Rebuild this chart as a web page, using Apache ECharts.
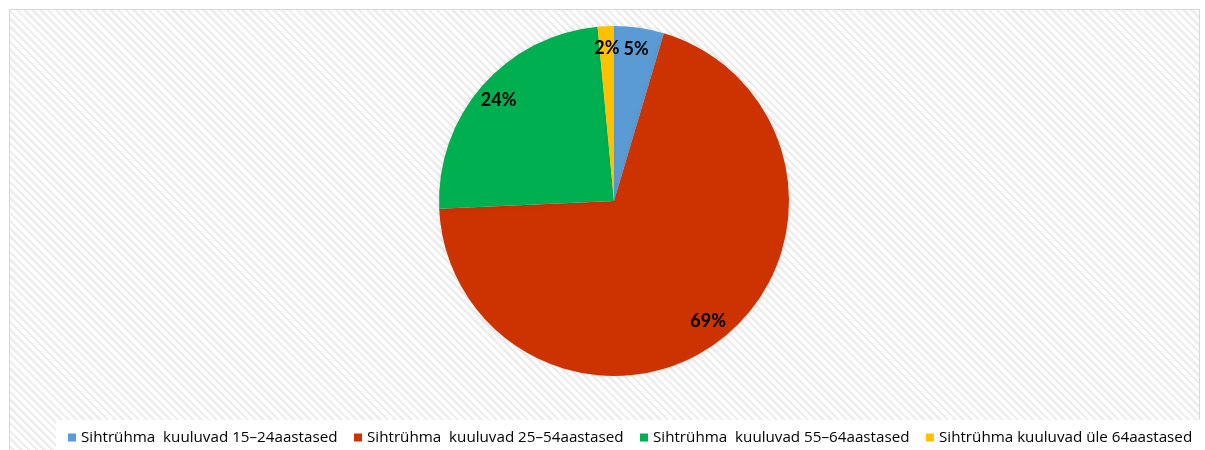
<!DOCTYPE html>
<html>
<head>
<meta charset="utf-8">
<script src="https://cdn.jsdelivr.net/npm/echarts@6/dist/echarts.min.js"></script>
<style>
html,body{margin:0;padding:0;background:#fff;width:1205px;height:450px;overflow:hidden;}
#frame{position:absolute;left:9px;top:9px;width:1191px;height:460px;border:1px solid #d9d9d9;box-sizing:border-box;
background:repeating-linear-gradient(45deg,#ffffff 0px,#ffffff 3px,#eeeeee 3px,#eeeeee 5.5px);}
#chart{position:absolute;left:0;top:0;width:1205px;height:450px;}
</style>
</head>
<body>
<div id="frame"></div>
<div id="chart"></div>
<script>
const categories = [
  'Sihtrühma  kuuluvad 15–24aastased',
  'Sihtrühma  kuuluvad 25–54aastased',
  'Sihtrühma  kuuluvad 55–64aastased',
  'Sihtrühma kuuluvad üle 64aastased'
];
const shares = [4.6, 69.7, 24.2, 1.5];
const labels = ['5%', '69%', '24%', '2%'];
const colors = ['#5B9BD5', '#CC3300', '#00B050', '#FFC000'];

const chart = echarts.init(document.getElementById('chart'), null, {renderer: 'canvas'});
const data = categories.map((c, i) => ({name: c, value: shares[i], itemStyle: {color: colors[i]}}));
const labelData = categories.map((c, i) => ({name: c, value: shares[i], label: {formatter: labels[i]}}));
chart.setOption({
  animation: false,
  backgroundColor: 'transparent',
  legend: {
    data: categories,
    left: 56,
    top: 420,
    width: 1140,
    padding: [10, 8, 12, 12],
    backgroundColor: '#ffffff',
    itemWidth: 8,
    itemHeight: 8,
    itemGap: 16.5,
    icon: 'rect',
    textStyle: {fontFamily: 'Open Sans', fontSize: 15.2, color: '#000'}
  },
  series: [
    {
      type: 'pie',
      center: [614, 201],
      radius: [0, 175],
      startAngle: 90,
      clockwise: true,
      data: data,
      label: {show: false},
      labelLine: {show: false},
      itemStyle: {shadowBlur: 6, shadowColor: 'rgba(0,0,0,0.08)'},
      emphasis: {disabled: true}
    },
    {
      type: 'pie',
      center: [614, 201],
      radius: [125, 175],
      startAngle: 90,
      clockwise: true,
      silent: true,
      data: labelData,
      itemStyle: {color: 'rgba(0,0,0,0)'},
      label: {show: true, position: 'inside', fontFamily: 'Lato', fontWeight: 'bold', fontSize: 18, color: '#000'},
      labelLine: {show: false},
      emphasis: {disabled: true},
      legendHoverLink: false
    }
  ]
});
</script>
</body>
</html>
